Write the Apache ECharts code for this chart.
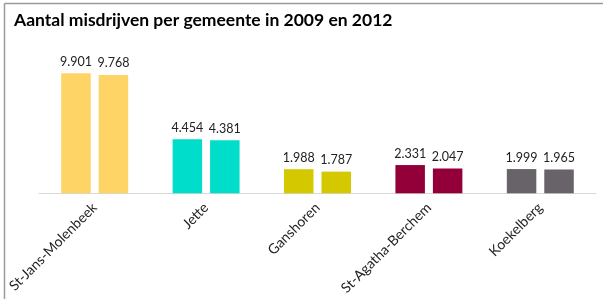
<!DOCTYPE html>
<html>
<head>
<meta charset="utf-8">
<script src="https://cdn.jsdelivr.net/npm/echarts@6/dist/echarts.min.js"></script>
<style>html,body{margin:0;padding:0;background:#fff}#c{width:603px;height:299px}</style>
</head>
<body>
<div id="c"></div>
<script>
var categories = ['St-Jans-Molenbeek', 'Jette', 'Ganshoren', 'St-Agatha-Berchem', 'Koekelberg'];
var values2009 = [9901, 4454, 1988, 2331, 1999];
var values2012 = [9768, 4381, 1787, 2047, 1965];
var colors = ['#FFD466', '#00DECB', '#D4C800', '#930039', '#676368'];
var titleText = 'Aantal misdrijven per gemeente in 2009 en 2012';

function fmt(v) {
  return String(v).replace(/\B(?=(\d{3})+(?!\d))/g, '.');
}
function mk(vals) {
  return vals.map(function (v, i) { return { value: v, itemStyle: { color: colors[i] } }; });
}
var labelStyle = {
  show: true, position: 'top', distance: 5, color: '#222', fontSize: 12.5,
  fontFamily: 'Lato', formatter: function (p) { return fmt(p.value); }
};
var chart = echarts.init(document.getElementById('c'));
chart.setOption({
  animation: false,
  title: {
    text: titleText, left: 9, top: 6,
    textStyle: { fontFamily: 'Lato', fontWeight: 'bold', fontSize: 17.5, color: '#000' }
  },
  grid: { left: 39, right: 7, top: 72.1, bottom: 299 - 193.3 },
  xAxis: {
    type: 'category', data: categories,
    axisLine: { lineStyle: { color: '#d9d9d9', width: 1 } },
    axisTick: { show: false },
    axisLabel: { rotate: 45, interval: 0, margin: 12, color: '#222', fontSize: 14, fontFamily: 'Lato' }
  },
  yAxis: { type: 'value', min: 0, max: 10000, show: false, splitLine: { show: false } },
  series: [
    { name: '2009', type: 'bar', data: mk(values2009), barWidth: 29.5, barGap: '27%', label: labelStyle },
    { name: '2012', type: 'bar', data: mk(values2012), barWidth: 29.5, barGap: '27%', label: labelStyle }
  ],
  graphic: [
    { type: 'line', shape: { x1: 4.5, y1: 3.5, x2: 603, y2: 3.5 }, style: { stroke: '#9a9a9a', lineWidth: 1.5 } },
    { type: 'line', shape: { x1: 4.5, y1: 3.5, x2: 4.5, y2: 299 }, style: { stroke: '#9a9a9a', lineWidth: 1.5 } }
  ]
});
</script>
</body>
</html>
